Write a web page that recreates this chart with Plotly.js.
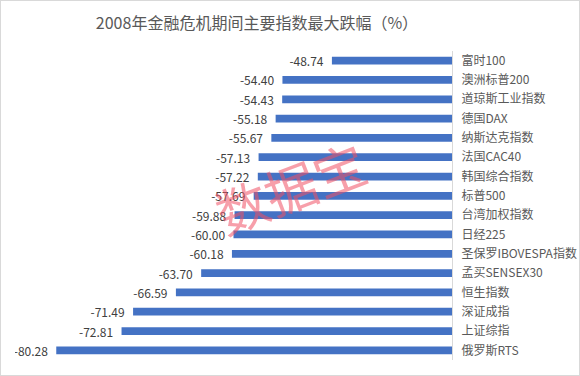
<!DOCTYPE html>
<html>
<head>
<meta charset="utf-8">
<script src="https://cdn.plot.ly/plotly-3.0.1.min.js"></script>
<style>
  html, body { margin: 0; padding: 0; background: #fff; }
  #wrap { position: relative; width: 580px; height: 376px; }
  #chart { width: 580px; height: 376px; }
  #frame { position: absolute; left: 0; top: 0; width: 578px; height: 374px; border: 1px solid #d9d9d9; pointer-events: none; }
</style>
</head>
<body>
<div id="wrap"><div id="chart"></div><div id="frame"></div></div>
<script>
const categories = ["富时100", "澳洲标普200", "道琼斯工业指数", "德国DAX", "纳斯达克指数", "法国CAC40", "韩国综合指数", "标普500", "台湾加权指数", "日经225", "圣保罗IBOVESPA指数", "孟买SENSEX30", "恒生指数", "深证成指", "上证综指", "俄罗斯RTS"];
const values = [-48.74, -54.40, -54.43, -55.18, -55.67, -57.13, -57.22, -57.69, -59.88, -60.00, -60.18, -63.70, -66.59, -71.49, -72.81, -80.28];
const valueLabels = values.map(v => v.toFixed(2) + "\u00a0\u00a0");

const font = "'Noto Sans CJK SC', 'Noto Sans', sans-serif";

const trace = {
  type: "bar",
  orientation: "h",
  x: values,
  y: categories,
  marker: { color: "#4472c4" },
  text: valueLabels,
  textposition: "outside",
  constraintext: "none",
  textfont: { family: font, size: 12, color: "#404040" },
  cliponaxis: true,
  hoverinfo: "none"
};

const layout = {
  width: 580,
  height: 376,
  margin: { l: 15, r: 128, t: 51, b: 16 },
  paper_bgcolor: "#ffffff",
  plot_bgcolor: "#ffffff",
  showlegend: false,
  bargap: 0.6,
  font: { family: font, color: "#595959", size: 12 },
  title: {
    text: "2008年金融危机期间主要指数最大跌幅（%）",
    font: { family: font, size: 16, color: "#595959" },
    xref: "container", x: 257 / 580, xanchor: "center",
    yref: "container", y: 1 - 23 / 376, yanchor: "middle"
  },
  xaxis: {
    range: [-85, -35],
    showgrid: false, zeroline: false, showticklabels: false, ticks: "",
    showline: false, fixedrange: true
  },
  yaxis: {
    side: "right",
    autorange: "reversed",
    type: "category",
    showgrid: false, zeroline: false, ticks: "",
    showline: true, linecolor: "#d9d9d9", linewidth: 1,
    ticklabelstandoff: 6,
    tickfont: { family: font, size: 12, color: "#595959" },
    fixedrange: true
  },
  annotations: [{
    text: "数据宝",
    xref: "paper", yref: "paper",
    x: (290 - 15) / 437, y: 1 - (186 - 51) / 309,
    showarrow: false,
    textangle: -21,
    font: { family: font, size: 52, color: "rgba(240, 80, 100, 0.55)" }
  }]
};

Plotly.newPlot("chart", [trace], layout, { displayModeBar: false, staticPlot: true });
</script>
</body>
</html>
